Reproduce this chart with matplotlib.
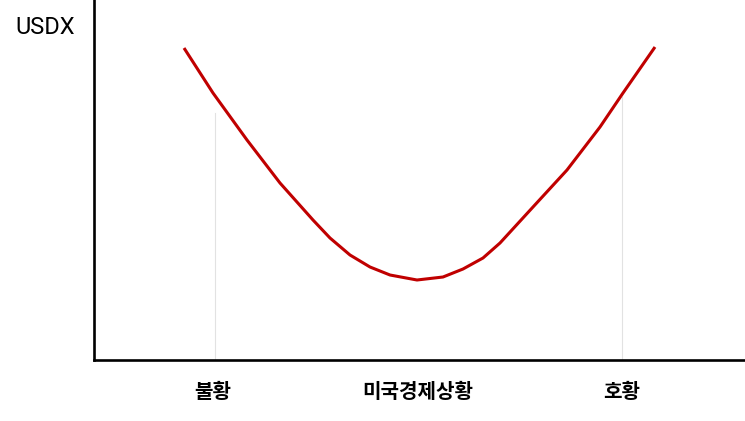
import matplotlib
matplotlib.use("Agg")
import matplotlib.pyplot as plt

# dollar smile curve (x: right of axis, y: above axis)
curve_x = [90, 119, 153, 186, 219, 236, 256, 276, 296, 323, 349, 369, 389, 406, 439, 473, 506, 529, 561]
curve_y = [312, 267, 220, 177, 140, 122, 105, 93, 85, 80, 83, 91, 102, 117, 153, 190, 233, 267, 313]

# guide lines under the two ends
guide_x = [121, 528]
guide_top = [247, 263]

# x tick labels
tick_pos = [119, 324, 528]
tick_labels = ['불황', '미국경제상황', '호황']

fig = plt.figure(figsize=(7.45, 4.21), dpi=100)
ax = fig.add_axes([94 / 745, 61 / 421, 1 - 94 / 745, 1 - 61 / 421])

for gx, gt in zip(guide_x, guide_top):
    ax.plot([gx, gx], [0, gt], color='#e2e2e2', lw=0.8, zorder=1)

ax.plot(curve_x, curve_y, color='#c00000', lw=2.2, solid_capstyle='butt',
        solid_joinstyle='round', zorder=2)

ax.set_xlim(0, 651)
ax.set_ylim(0, 360)

for s in ['top', 'right']:
    ax.spines[s].set_visible(False)
for s in ['left', 'bottom']:
    ax.spines[s].set_linewidth(1.9)
    ax.spines[s].set_color('black')

ax.set_yticks([])
ax.set_xticks(tick_pos)
ax.set_xticklabels(tick_labels, fontfamily=['Noto Sans CJK KR', 'DejaVu Sans'],
                   fontsize=14.5, fontweight='bold')
ax.tick_params(axis='x', length=0, pad=15)

fig.text(45 / 745, 1 - 28 / 421, 'USDX', fontfamily='Roboto', fontsize=17,
         ha='center', va='center')

fig.savefig('out.png', dpi=100)
